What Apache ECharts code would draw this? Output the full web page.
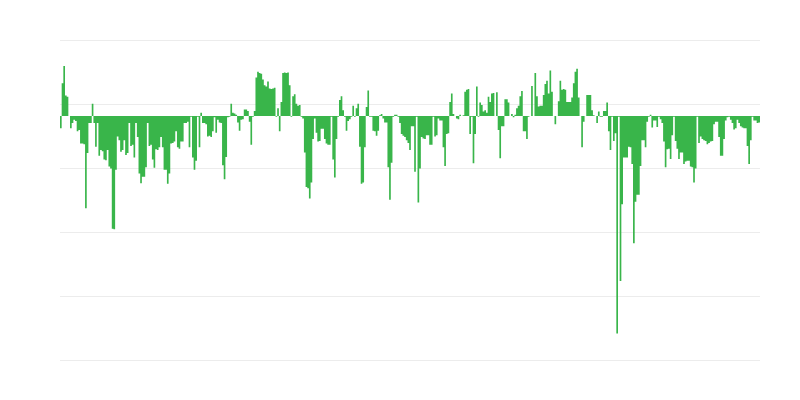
<!DOCTYPE html>
<html>
<head>
<meta charset="utf-8">
<script src="https://cdn.jsdelivr.net/npm/echarts@6/dist/echarts.min.js"></script>
<style>html,body{margin:0;padding:0;background:#fff}#c{width:800px;height:400px}</style>
</head>
<body>
<div id="c"></div>
<script>
const valuesA = [
-1.9,5.1,7.8,3.2,3.0,0,-1.9,-1.1,-0.6,-0.8,-2.4,-2.2,-4.3,-4.3,-4.4,-14.4,-5.8,-1.1,-1.1,1.9,-1.1,-4.8,
-1.1,-6.2,-5.3,-5.5,-6.8,-6.9,-5.3,-7.9,-8.2,-17.6,-17.7,-8.4,-3.2,-3.8,-5.6,-5.3,-3.8,-6.1,-5.8,-1.1,
-4.7,-4.5,-6.5,-1.1,-3.3,-9.0,-10.5,-9.5,-9.5,-8.0,-1.1,-4.7,-4.5,-6.8,-8.1,-5.2,-5.3,-4.9,-3.3,-4.9,
-8.4,-8.4,-10.6,-9.0,-4.3,-4.2,-4.0,-2.4,-4.9,-5.1,-4.0,-4.0,-1.1,-1.1,-0.9,-4.9,-0.1,-6.5,-8.4,-7.0,
-0.1,-4.9,0.5,-1.1,-1.1,-1.3,-3.2,-3.1,-3.3,-2.4,-0.2,-2.6,-0.6,-1.0,-1.1,-7.7,-9.9,-6.4,-0.2,-0.1,
1.9,0.5,0.4,0.2,-1.0,-2.3,-0.6,-0.5,1.0,1.0,0.8,-0.9,-4.5,-0.1,0.8,6.0,6.9,6.7,6.6,5.7,
4.8,4.6,5.4,4.3,4.2,4.3,4.4,-0.1,1.2,-2.4,2.2,6.7,6.8,6.7,6.8,4.8,-0.1,3.1,3.4,1.9,
1.6,1.7,-0.1,-0.4,-5.7,-11.1,-11.3,-12.9,-10.4,-3.6,-0.4,-2.6,-4.0,-3.9,-2.0,-2.0,-3.6,-4.3,-4.5,-4.5,
-0.1,-6.8,-9.6,-3.6,-0.1,2.5,3.1,0.9,-0.1,-2.3,-0.8,-0.5,-0.1,1.6,-0.1,1.2,1.9,-4.8,-10.6,-10.4,
-4.9,1.4,4.0,-0.1,-0.1,-2.3,-2.4,-3.1,-2.3,0.1,0.3,-0.4,-1.0,-1.0,-8.0,-13.1,-7.3,-0.1,0.2,0.2,
-0.1,-1.1,-2.8,-3.1,-3.3,-3.8,-4.2
];
const valuesB = [
-5.3,-1.6,-1.6,-8.7,-0.1,-13.5,-8.2,-3.3,-3.5,-3.6,-3.0,-3.0,-4.5,-4.5,-0.1,-3.2,-3.0,-0.4,-0.7,-0.7,
-4.9,-7.8,-2.8,-2.7,2.2,3.5,0.3,0,-0.4,-0.5,0.2,0,0.1,3.8,4.1,4.2,-2.8,-0.1,-7.4,-2.8,
4.6,-0.1,2.1,1.7,0.7,0.9,0.5,3.0,2.2,3.5,3.6,0,3.7,-2.2,-6.6,-1.6,-1.6,2.6,2.6,2.1,
0,0.3,-0.2,0.2,1.2,1.6,3.1,3.9,-2.4,-2.4,-3.6,-0.1,0,4.7,0,6.7,3.1,1.5,1.6,1.6,
3.3,5.0,5.5,3.5,7.1,3.8,0,-1.3,0,2.3,5.5,4.1,4.2,4.1,2.2,2.2,2.2,2.9,5.1,6.9,
7.4,2.9,0,-4.9,-0.9,0,3.3,3.3,3.3,0.9,0.1,0,-1.1,0.7,-0.1,-0.1,0.8,0.8,2.1,-2.4,
-5.3,-0.1,-3.9,-2.7,-34.0,-0.1,-25.8,-13.8,-6.5,-6.5,-6.5,-4.8,-4.9,-7.5,-19.9,-13.4,-12.3,-12.3,-7.8,-3.8,
-3.8,-4.9,-0.9,-0.1,0.2,-1.8,-0.7,-0.7,-1.7,-0.1,-0.5,-1.1,-4.0,-8.0,-5.2,-5.1,-6.7,-3.0,-0.1,-3.9,
-5.1,-6.7,-5.7,-5.7,-7.5,-7.1,-7.0,-7.0,-7.9,-8.0,-10.4,-8.2,-0.1,-4.2,-3.2,-3.6,-3.8,-3.9,-4.4,-4.2,
-4.0,-3.9,-1.3,-0.9,-0.9,-3.3,-6.2,-6.2,-3.6,-0.7,-0.2,-0.1,-0.6,-1.1,-2.1,-1.9,-0.6,-1.1,-1.6,-1.8,
-1.9,-1.9,-4.7,-7.5,-3.8,-0.1,-0.7,-0.7,-1.1,-1.0
];
const values = valuesA.concat(valuesB);
const categories = values.map((_, i) => String(i + 1));
const yMin = -38.125;
const yMax = 11.875;

const chart = echarts.init(document.getElementById('c'), null, {renderer: 'canvas'});
chart.setOption({
  animation: false,
  backgroundColor: '#ffffff',
  grid: {left: 60, right: 40, top: 40, bottom: 40, containLabel: false},
  xAxis: {
    type: 'category',
    data: categories,
    axisLine: {show: false},
    axisTick: {show: false},
    axisLabel: {show: false},
    splitLine: {show: false}
  },
  yAxis: [
    {
      type: 'value', min: yMin, max: yMax,
      axisLine: {show: false}, axisTick: {show: false}, axisLabel: {show: false},
      splitLine: {show: false}
    },
    {
      type: 'value', min: 0, max: 5, interval: 1, position: 'left',
      axisLine: {show: false}, axisTick: {show: false}, axisLabel: {show: false},
      splitLine: {show: true, lineStyle: {color: '#ececec', width: 1}}
    }
  ],
  series: [{
    type: 'bar',
    yAxisIndex: 0,
    data: values,
    large: true,
    largeThreshold: 100,
    barCategoryGap: '0%',
    itemStyle: {color: '#39b54a'},
    emphasis: {disabled: true}
  }]
});
</script>
</body>
</html>
